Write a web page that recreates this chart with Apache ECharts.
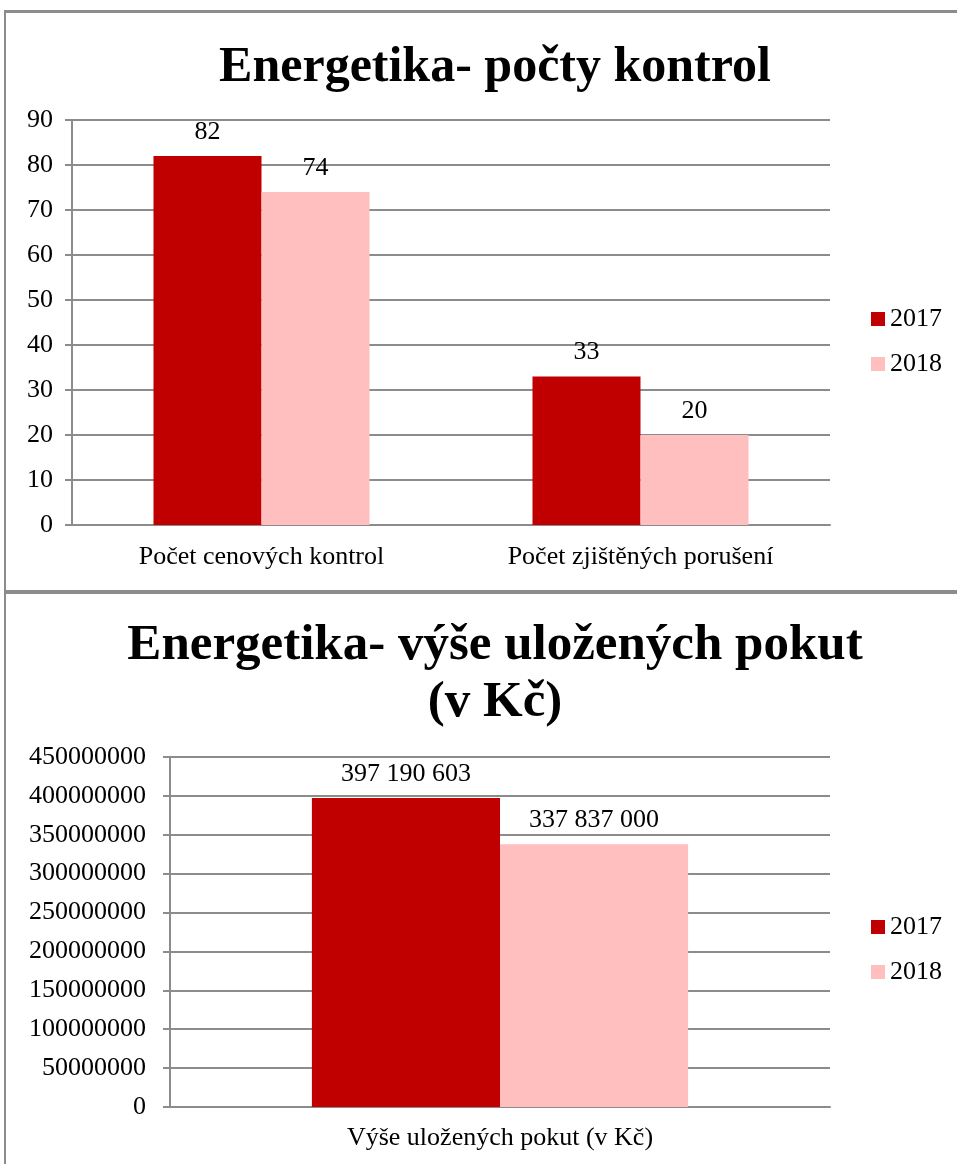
<!DOCTYPE html>
<html>
<head>
<meta charset="utf-8">
<script src="https://cdn.jsdelivr.net/npm/echarts@6/dist/echarts.min.js"></script>
<style>
  body { margin: 0; background: #fff; width: 957px; height: 1164px; overflow: hidden; position: relative; }
  .chart { position: absolute; left: 0; width: 957px; }
  .box { position: absolute; border-color: #8c8c8c; border-style: solid; pointer-events: none; }
</style>
</head>
<body>
<div id="chartFirst" class="chart" style="top:0;height:590px"></div>
<div id="chartSecond" class="chart" style="top:590px;height:574px"></div>
<div class="box" style="left:4px;top:10px;width:980px;height:577px;border-width:3px 0 4px 2px"></div>
<div class="box" style="left:4px;top:592px;width:980px;height:600px;border-width:0 0 0 2px"></div>
<script>
// data
var years = ['2017', '2018'];
var countCategories = ['Počet cenových kontrol', 'Počet zjištěných porušení'];
var counts2017 = [82, 33];
var counts2018 = [74, 20];
var fineCategories = ['Výše uložených pokut (v Kč)'];
var fines2017 = [397190603];
var fines2018 = [337837000];
var colors = ['#c00000', '#ffbfbf'];

var serif = '"Liberation Serif", "Times New Roman", serif';
var gridColor = '#8c8c8c';

function spaced(v) {
	return String(v).replace(/\B(?=(\d{3})+(?!\d))/g, ' ');
}

function barSeries(name, data, color, fmt) {
	return {
		name: name,
		type: 'bar',
		barGap: '0%',
		barCategoryGap: '43%',
		itemStyle: { color: color },
		label: {
			show: true,
			position: 'top',
			distance: 11,
			color: '#000',
			fontFamily: serif,
			fontSize: 26,
			formatter: function (p) { return fmt ? fmt(p.value) : p.value; }
		},
		data: data
	};
}

function baseOption(titleText, titleTop, titleSize, grid, legendTop, cats, yMax, yInterval) {
	return {
		animation: false,
		title: {
			text: titleText,
			left: 490,
			top: titleTop,
			textAlign: 'center',
			textStyle: { fontFamily: serif, fontWeight: 'bold', fontSize: titleSize, lineHeight: 57, color: '#000' }
		},
		legend: {
			orient: 'vertical',
			left: 866,
			top: legendTop,
			itemWidth: 14,
			itemHeight: 14,
			itemGap: 19,
			icon: 'rect',
			textStyle: { fontFamily: serif, fontSize: 26, color: '#000' },
			data: years
		},
		grid: grid,
		xAxis: {
			type: 'category',
			data: cats,
			axisLine: { lineStyle: { color: gridColor, width: 2 } },
			axisTick: { length: 7, lineStyle: { color: gridColor, width: 2 } },
			axisLabel: { margin: 19, color: '#000', fontFamily: serif, fontSize: 26 }
		},
		yAxis: {
			type: 'value',
			min: 0,
			max: yMax,
			interval: yInterval,
			axisLine: { show: true, lineStyle: { color: gridColor, width: 2 } },
			axisTick: { show: true, length: 7, lineStyle: { color: gridColor, width: 2 } },
			splitLine: { lineStyle: { color: gridColor, width: 2 } },
			axisLabel: { color: '#000', fontFamily: serif, fontSize: 26, formatter: function (v) { return String(v); } }
		}
	};
}

var chartFirst = echarts.init(document.getElementById('chartFirst'));
var opt1 = baseOption('Energetika- počty kontrol', 35, 50,
	{ left: 72, top: 120, width: 758, height: 405 }, 301,
	countCategories, 90, 10);
opt1.yAxis.axisLabel.margin = 19;
opt1.series = [
	barSeries(years[0], counts2017, colors[0]),
	barSeries(years[1], counts2018, colors[1])
];
chartFirst.setOption(opt1);

var chartSecond = echarts.init(document.getElementById('chartSecond'));
var opt2 = baseOption('Energetika- výše uložených pokut\n(v Kč)', 22, 51,
	{ left: 170, top: 167, width: 660, height: 350 }, 319,
	fineCategories, 450000000, 50000000);
opt2.yAxis.axisLabel.margin = 24;
opt2.xAxis.axisLabel.margin = 18;
opt2.series = [
	barSeries(years[0], fines2017, colors[0], spaced),
	barSeries(years[1], fines2018, colors[1], spaced)
];
chartSecond.setOption(opt2);
</script>
</body>
</html>
